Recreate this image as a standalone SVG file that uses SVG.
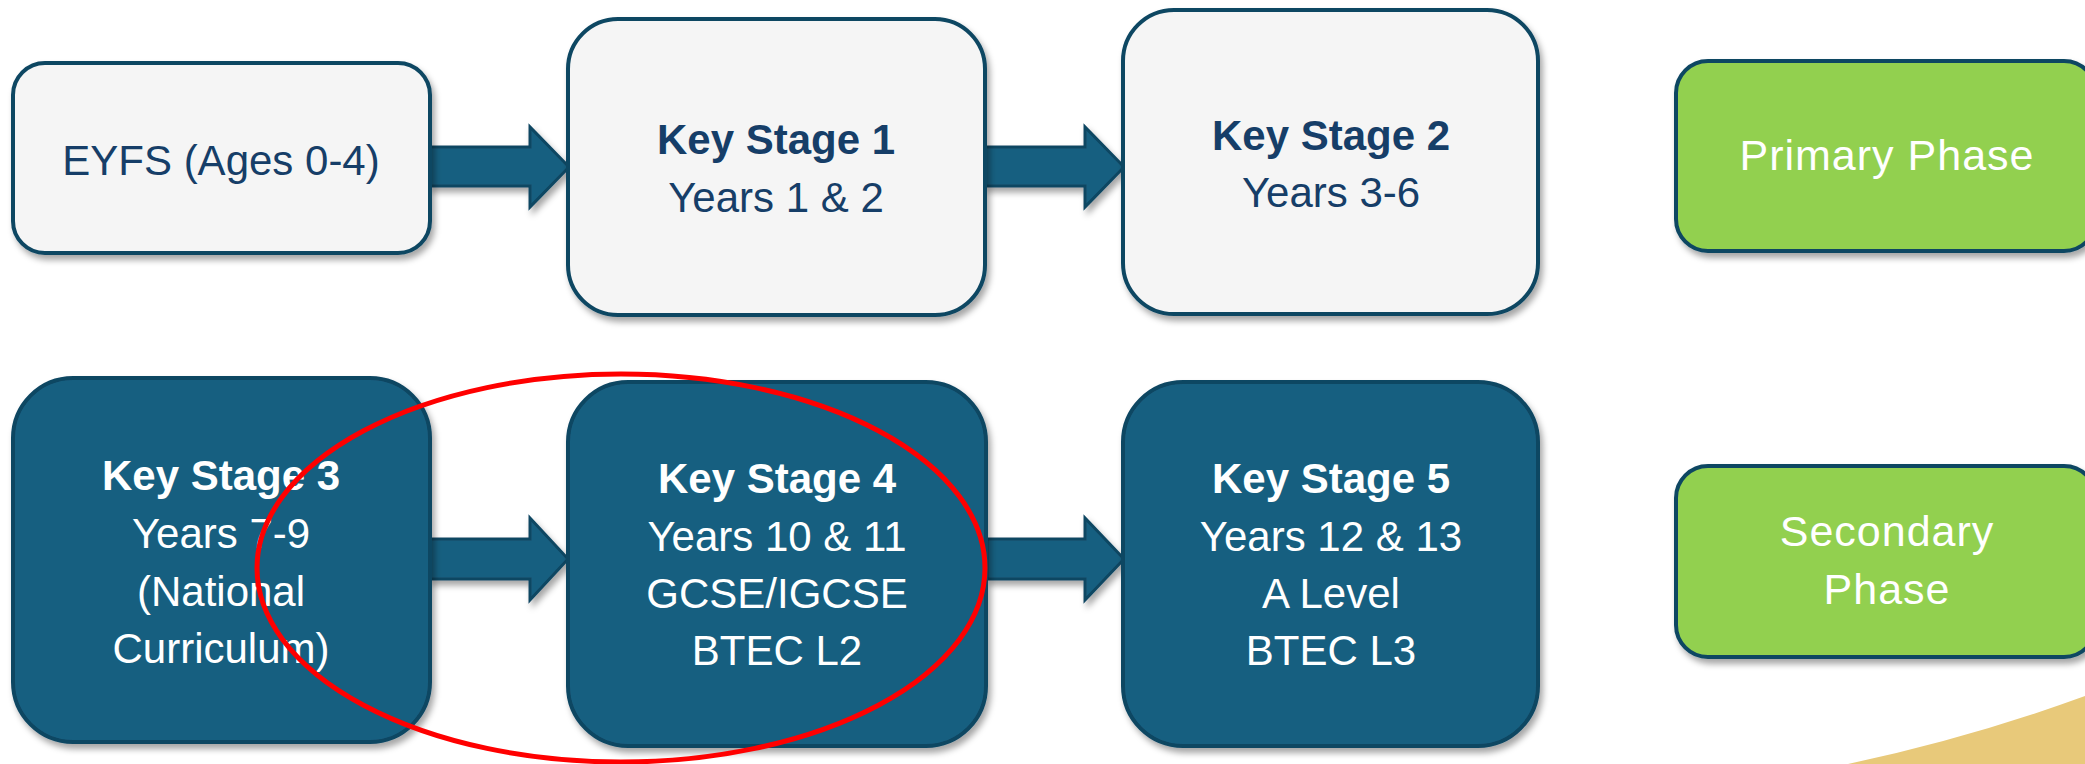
<svg xmlns="http://www.w3.org/2000/svg" width="2085" height="764" viewBox="0 0 2085 764">
<defs>
<filter id="sh" x="-10%" y="-10%" width="130%" height="130%">
<feDropShadow dx="3" dy="5" stdDeviation="3" flood-color="#000" flood-opacity="0.35"/>
</filter>
</defs>
<style>
.light{fill:#f5f5f5;stroke:#0f4662;stroke-width:4}
.dark{fill:#185f80;stroke:#0f4662;stroke-width:4}
.green{fill:#92d050;stroke:#0f4662;stroke-width:4}
.arrow{fill:#185f80;stroke:#0f4662;stroke-width:3;stroke-linejoin:miter}
text{font-family:"Liberation Sans",Arial,sans-serif;font-size:42px;text-anchor:middle}
.tn{fill:#163e68}
.tw{fill:#ffffff}
.b{font-weight:bold}
.g{font-size:43px;letter-spacing:1px}
</style>
<rect width="2085" height="764" fill="#ffffff"/>
<path d="M1848 764 Q1970 738 2085 696 L2085 764 Z" fill="#e8c97a"/>
<g id="connectors" filter="url(#sh)">
<polygon class="arrow" points="430,147 530,147 530,127 569,167 530,207 530,186 430,186"/>
<polygon class="arrow" points="985,147 1085,147 1085,127 1124,167 1085,207 1085,186 985,186"/>
<polygon class="arrow" points="430,539 530,539 530,518 568,559 530,600 530,579 430,579"/>
<polygon class="arrow" points="987,539 1085,539 1085,518 1124,559 1085,600 1085,579 987,579"/>
</g>
<g id="eyfs">
<rect class="light" x="13" y="63" width="417" height="190" rx="32" filter="url(#sh)"/>
<text class="tn" x="221" y="175">EYFS (Ages 0-4)</text>
</g>
<g id="ks1">
<rect class="light" x="568" y="19" width="417" height="296" rx="50" filter="url(#sh)"/>
<text class="tn b" x="776" y="154">Key Stage 1</text>
<text class="tn" x="776" y="212">Years 1 &amp; 2</text>
</g>
<g id="ks2">
<rect class="light" x="1123" y="10" width="415" height="304" rx="51" filter="url(#sh)"/>
<text class="tn b" x="1331" y="150">Key Stage 2</text>
<text class="tn" x="1331" y="207">Years 3-6</text>
</g>
<g id="primary">
<rect class="green" x="1676" y="61" width="420" height="190" rx="32" filter="url(#sh)"/>
<text class="tw g" x="1887" y="170">Primary Phase</text>
</g>
<g id="ks3">
<rect class="dark" x="13" y="378" width="417" height="364" rx="60" filter="url(#sh)"/>
<text class="tw b" x="221" y="490">Key Stage 3</text>
<text class="tw" x="221" y="548">Years 7-9</text>
<text class="tw" x="221" y="606">(National</text>
<text class="tw" x="221" y="663">Curriculum)</text>
</g>
<g id="ks4">
<rect class="dark" x="568" y="382" width="418" height="364" rx="60" filter="url(#sh)"/>
<text class="tw b" x="777" y="493">Key Stage 4</text>
<text class="tw" x="777" y="551">Years 10 &amp; 11</text>
<text class="tw" x="777" y="608">GCSE/IGCSE</text>
<text class="tw" x="777" y="665">BTEC L2</text>
</g>
<g id="ks5">
<rect class="dark" x="1123" y="382" width="415" height="364" rx="60" filter="url(#sh)"/>
<text class="tw b" x="1331" y="493">Key Stage 5</text>
<text class="tw" x="1331" y="551">Years 12 &amp; 13</text>
<text class="tw" x="1331" y="608">A Level</text>
<text class="tw" x="1331" y="665">BTEC L3</text>
</g>
<g id="secondary">
<rect class="green" x="1676" y="466" width="420" height="191" rx="32" filter="url(#sh)"/>
<text class="tw g" x="1887" y="546">Secondary</text>
<text class="tw g" x="1887" y="604">Phase</text>
</g>
<g id="highlight">
<ellipse cx="621" cy="568" rx="364" ry="194" fill="none" stroke="#ff0000" stroke-width="5"/>
</g>
</svg>
